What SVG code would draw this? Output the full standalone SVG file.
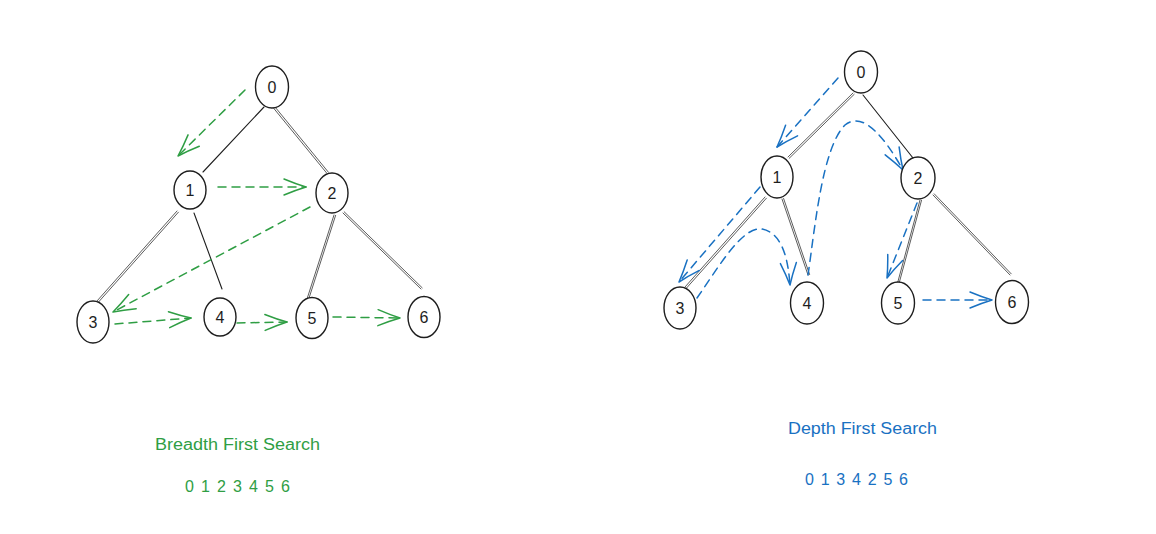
<svg xmlns="http://www.w3.org/2000/svg" width="1156" height="534" viewBox="0 0 1156 534">
<style>
.node ellipse{fill:#fff;stroke:#1e1e1e;stroke-width:1.4}
.node text{font-family:"Liberation Sans",Arial,sans-serif;font-size:16px;fill:#1e1e1e;text-anchor:middle}
.edge{stroke:#1e1e1e;stroke-width:1.1;fill:none;stroke-linecap:round}
.dbl{stroke:#333;stroke-width:0.8;fill:none;stroke-linecap:round}
.g{stroke:#2f9e44;stroke-width:1.5;fill:none;stroke-dasharray:8 6;stroke-linecap:round}
.b{stroke:#1971c2;stroke-width:1.5;fill:none;stroke-dasharray:8 6;stroke-linecap:round}
.lbl{font-family:"Liberation Sans",Arial,sans-serif;font-size:16px}
</style>
<defs>
<marker id="ag" viewBox="-26 -11 28 22" markerWidth="28" markerHeight="22" refX="0" refY="0" orient="auto" markerUnits="userSpaceOnUse">
<path d="M-22,-8 Q-10,-3 0,0 Q-10,3 -22,8" fill="none" stroke="#2f9e44" stroke-width="1.5" stroke-linecap="round" stroke-linejoin="round" stroke-dasharray="none"/>
</marker>
<marker id="ab" viewBox="-26 -11 28 22" markerWidth="28" markerHeight="22" refX="0" refY="0" orient="auto" markerUnits="userSpaceOnUse">
<path d="M-22,-8 Q-10,-3 0,0 Q-10,3 -22,8" fill="none" stroke="#1971c2" stroke-width="1.5" stroke-linecap="round" stroke-linejoin="round" stroke-dasharray="none"/>
</marker>
</defs>
<rect width="1156" height="534" fill="#fff"/>

<g id="connectors">
<!-- left tree edges -->
<line class="edge" x1="264" y1="107" x2="203" y2="172"/>
<line class="dbl" x1="272.8" y1="107.2" x2="326.8" y2="173.2"/>
<line class="dbl" x1="274.4" y1="106.2" x2="328.4" y2="172.2"/>
<line class="dbl" x1="177" y1="211" x2="97" y2="301"/>
<line class="dbl" x1="178.4" y1="212.2" x2="98.4" y2="302.2"/>
<line class="edge" x1="194" y1="213" x2="222" y2="289"/>
<line class="dbl" x1="334" y1="215" x2="307" y2="299"/>
<line class="dbl" x1="335.6" y1="215.4" x2="308.6" y2="299.4"/>
<line class="dbl" x1="343" y1="213" x2="421" y2="289"/>
<line class="dbl" x1="344.2" y1="211.8" x2="422.2" y2="287.8"/>
<!-- right tree edges -->
<line class="dbl" x1="853" y1="93" x2="788" y2="157"/>
<line class="dbl" x1="854.2" y1="94.3" x2="789.2" y2="158.3"/>
<line class="edge" x1="863" y1="95" x2="913" y2="158"/>
<line class="dbl" x1="765" y1="197" x2="685" y2="287"/>
<line class="dbl" x1="766.4" y1="198.2" x2="686.4" y2="288.2"/>
<line class="dbl" x1="782" y1="199" x2="808" y2="275"/>
<line class="dbl" x1="783.6" y1="198.5" x2="809.6" y2="274.5"/>
<line class="dbl" x1="920" y1="200" x2="897" y2="285"/>
<line class="dbl" x1="921.5" y1="200.4" x2="898.5" y2="285.4"/>
<line class="dbl" x1="933" y1="195" x2="1010" y2="275"/>
<line class="dbl" x1="934.2" y1="193.8" x2="1011.2" y2="273.8"/>
<!-- BFS arrows -->
<path class="g" d="M245,90 L178,156" marker-end="url(#ag)"/>
<path class="g" d="M218,187 L306,187" marker-end="url(#ag)"/>
<path class="g" d="M310,207 L113,312" marker-end="url(#ag)"/>
<path class="g" d="M115,324 L191,318" marker-end="url(#ag)"/>
<path class="g" d="M237,323 L287,322" marker-end="url(#ag)"/>
<path class="g" d="M333,317 L400,318" marker-end="url(#ag)"/>
<!-- DFS arrows -->
<path class="b" d="M838,78 L777,147" marker-end="url(#ab)"/>
<path class="b" d="M760,187 L679,282" marker-end="url(#ab)"/>
<path class="b" d="M697,298 C718,268 742,226 762,229 C782,233 788,258 790,285" marker-end="url(#ab)"/>
<path class="b" d="M808,275 C815,228 822,148 845,125 C864,110 886,140 903,170" marker-end="url(#ab)"/>
<path class="b" d="M917,203 L887,278" marker-end="url(#ab)"/>
<path class="b" d="M923,300 L992,300" marker-end="url(#ab)"/>
</g>

<g id="bfs-n0" class="node"><ellipse cx="272" cy="87" rx="16.5" ry="21"/><text x="272" y="93">0</text></g>
<g id="bfs-n1" class="node"><ellipse cx="190" cy="190" rx="16" ry="19"/><text x="190" y="196">1</text></g>
<g id="bfs-n2" class="node"><ellipse cx="332" cy="193" rx="16" ry="20"/><text x="332" y="199">2</text></g>
<g id="bfs-n3" class="node"><ellipse cx="93" cy="322" rx="16" ry="21"/><text x="93" y="328">3</text></g>
<g id="bfs-n4" class="node"><ellipse cx="220" cy="317" rx="16" ry="19"/><text x="220" y="323">4</text></g>
<g id="bfs-n5" class="node"><ellipse cx="312" cy="318" rx="16" ry="20.5"/><text x="312" y="324">5</text></g>
<g id="bfs-n6" class="node"><ellipse cx="424" cy="317" rx="16" ry="20.5"/><text x="424" y="323">6</text></g>

<g id="dfs-n0" class="node"><ellipse cx="861" cy="72" rx="16.5" ry="21"/><text x="861" y="78">0</text></g>
<g id="dfs-n1" class="node"><ellipse cx="777" cy="177" rx="16" ry="21"/><text x="777" y="183">1</text></g>
<g id="dfs-n2" class="node"><ellipse cx="918" cy="178" rx="17" ry="21"/><text x="918" y="184">2</text></g>
<g id="dfs-n3" class="node"><ellipse cx="680" cy="308" rx="16" ry="21"/><text x="680" y="314">3</text></g>
<g id="dfs-n4" class="node"><ellipse cx="807" cy="303" rx="16.5" ry="21"/><text x="807" y="309">4</text></g>
<g id="dfs-n5" class="node"><ellipse cx="898" cy="303" rx="16.5" ry="21"/><text x="898" y="309">5</text></g>
<g id="dfs-n6" class="node"><ellipse cx="1012" cy="302" rx="16.5" ry="21.5"/><text x="1012" y="308">6</text></g>

<g id="labels">
<text class="lbl" x="155" y="450" fill="#2f9e44" textLength="165" lengthAdjust="spacingAndGlyphs">Breadth First Search</text>
<text class="lbl" x="185" y="492" fill="#2f9e44" font-size="15" textLength="105">0 1 2 3 4 5 6</text>
<text class="lbl" x="788" y="434" fill="#1971c2" textLength="149" lengthAdjust="spacingAndGlyphs">Depth First Search</text>
<text class="lbl" x="805" y="485" fill="#1971c2" font-size="15" textLength="103">0 1 3 4 2 5 6</text>
</g>
</svg>
